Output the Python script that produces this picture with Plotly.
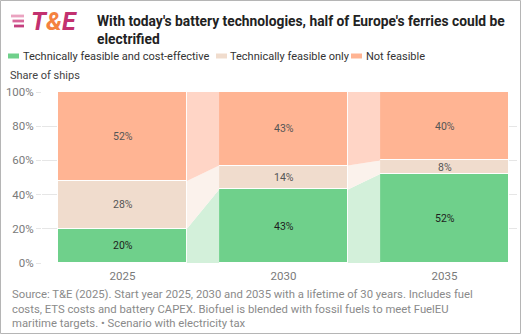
import plotly.graph_objects as go

# Data: share of ferries by battery-electric feasibility
years = ["2025", "2030", "2035"]
series_names = ["Technically feasible and cost-effective", "Technically feasible only", "Not feasible"]
cost_effective = [20, 43, 52]
feasible_only = [28, 14, 8]
not_feasible = [52, 43, 40]
y_ticks = [0, 20, 40, 60, 80, 100]
y_tick_labels = [f"{v}%" for v in y_ticks]

series_values = [cost_effective, feasible_only, not_feasible]
bar_colors = ["#6fd08b", "#f0dccd", "#ffb493"]
link_colors = ["#d3f0da", "#fbf2ec", "#ffd5c6"]
label_colors = ["#1e1e1e", "#555555", "#555555"]

W, H = 521, 334
ML, MR, MT, MB = 42, 4, 92, 71
PW, PH = W - ML - MR, H - MT - MB
FONT = "Roboto"


def px(x):
    return (x - ML) / PW


def py(y):
    return (H - MB - y) / PH


xpos = list(range(len(years)))
bar_w = 0.8

fig = go.Figure()

# connecting bands between consecutive columns
for k, vals in enumerate(series_values):
    for i in range(len(years) - 1):
        lo0 = sum(series_values[j][i] for j in range(k))
        lo1 = sum(series_values[j][i + 1] for j in range(k))
        hi0, hi1 = lo0 + vals[i], lo1 + vals[i + 1]
        xa, xb = xpos[i] + bar_w / 2, xpos[i + 1] - bar_w / 2
        fig.add_trace(go.Scatter(
            x=[xa, xb, xb, xa, xa], y=[lo0, lo1, hi1, hi0, lo0],
            fill="toself", fillcolor=link_colors[k], mode="lines",
            line=dict(width=0), hoverinfo="skip", showlegend=False))

# stacked columns
for k, vals in enumerate(series_values):
    fig.add_trace(go.Bar(
        x=xpos, y=vals, width=bar_w, name=series_names[k],
        marker=dict(color=bar_colors[k], line=dict(color="white", width=1)),
        showlegend=False, hoverinfo="skip"))

annotations = []
# value labels centred in each segment
for i in range(len(years)):
    base = 0
    for k, vals in enumerate(series_values):
        annotations.append(dict(
            x=xpos[i], y=base + vals[i] / 2, xref="x", yref="y",
            text=f"{vals[i]}%", showarrow=False,
            font=dict(family=FONT, size=10.5, color=label_colors[k])))
        base += vals[i]

shapes = []
# legend swatches and labels
legend_items = [(8, 21), (216, 228), (351, 364)]
for k, (sx, tx) in enumerate(legend_items):
    shapes.append(dict(type="rect", xref="paper", yref="paper",
                       x0=px(sx), x1=px(sx + 11), y0=py(58.5), y1=py(53.5),
                       fillcolor=bar_colors[k], line=dict(width=0), layer="above"))
    annotations.append(dict(x=px(tx), y=py(56), xref="paper", yref="paper",
                            xanchor="left", yanchor="middle", showarrow=False,
                            text=series_names[k],
                            font=dict(family=FONT, size=11, color="#333333")))

# logo stripes
for j, yy in enumerate([16, 21, 26]):
    shapes.append(dict(type="rect", xref="paper", yref="paper",
                       x0=px(11 + j * 1.5), x1=px(24), y0=py(yy + 1.4), y1=py(yy - 1.4),
                       fillcolor=["#eaa3c0", "#d8679a", "#c43f7f"][j], line=dict(width=0),
                       layer="above"))

annotations.append(dict(
    x=px(29), y=py(21.5), xref="paper", yref="paper", xanchor="left", yanchor="middle",
    showarrow=False,
    text="<b><i>T<span style='color:#f4823f'>&amp;</span>E</i></b>",
    font=dict(family=FONT, size=25, color="#c2316f")))

# title
annotations.append(dict(
    x=px(95), y=py(29.5), xref="paper", yref="paper", xanchor="left", yanchor="middle",
    showarrow=False, align="left",
    text="<b>With today's battery technologies, half of Europe's ferries could be<br>electrified</b>",
    font=dict(family=FONT, size=13.8, color="#222222")))

# axis title
annotations.append(dict(
    x=px(8), y=py(75), xref="paper", yref="paper", xanchor="left", yanchor="middle",
    showarrow=False, text="Share of ships",
    font=dict(family=FONT, size=11, color="#444444")))

# source note
annotations.append(dict(
    x=px(10), y=py(309), xref="paper", yref="paper", xanchor="left", yanchor="middle",
    showarrow=False, align="left",
    text=("Source: T&amp;E (2025). Start year 2025, 2030 and 2035 with a lifetime of 30 years. Includes fuel<br>"
          "costs, ETS costs and battery CAPEX. Biofuel is blended with fossil fuels to meet FuelEU<br>"
          "maritime targets. • Scenario with electricity tax"),
    font=dict(family=FONT, size=11.3, color="#8a8a8a")))

# outer frame
shapes.append(dict(type="rect", xref="paper", yref="paper",
                   x0=px(0.5), x1=px(520.5), y0=py(333.5), y1=py(0.5),
                   line=dict(color="#b5b5b5", width=1), layer="above"))

fig.update_layout(
    width=W, height=H,
    margin=dict(l=ML, r=MR, t=MT, b=MB, pad=0),
    paper_bgcolor="white", plot_bgcolor="white",
    barmode="stack", bargap=0,
    showlegend=False,
    font=dict(family=FONT),
    annotations=annotations, shapes=shapes,
    xaxis=dict(range=[-0.5, 2.45], tickvals=xpos, ticktext=years,
               showgrid=False, zeroline=False, showline=False,
               ticks="outside", ticklen=2, tickcolor="rgba(0,0,0,0)",
               tickfont=dict(family=FONT, size=11.5, color="#7a7a7a")),
    yaxis=dict(range=[0, 100], tickvals=y_ticks, ticktext=y_tick_labels,
               showgrid=True, gridcolor="#e6e6e6", gridwidth=1,
               zeroline=False, showline=False, ticks="outside", ticklen=5,
               tickcolor="#e6e6e6",
               tickfont=dict(family=FONT, size=11.5, color="#7a7a7a")),
)

fig.write_html("out.html")
